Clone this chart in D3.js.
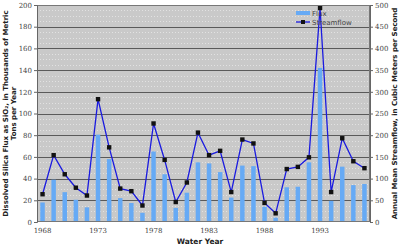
<!DOCTYPE html>
<html>
<head>
<meta charset="utf-8">
<script src="https://cdn.jsdelivr.net/npm/d3@7"></script>
<style>
  body { margin: 0; background: #fff; }
  text { font-family: "DejaVu Sans", Verdana, sans-serif; }
</style>
</head>
<body>
<div id="chart"></div>
<script>
// water years 1968-1997
var years = d3.range(1968, 1998);
var flux = [18, 39, 27.5, 20.5, 13.5, 80.5, 58, 22, 17.5, 8.5,
            65, 44, 13, 27, 55, 54, 46, 22.5, 52, 51.5,
            14, 4, 32, 32.5, 55, 142, 19.5, 51, 34, 35];
var streamflow = [64, 154, 110, 79, 61, 283, 172, 77, 71, 38,
                  227, 143, 46, 91, 206, 154, 164, 69, 190, 181,
                  44, 20, 122, 127, 149, 493, 69, 193, 140, 124];
var yearTicks = [1968, 1973, 1978, 1983, 1988, 1993];

var W = 400, H = 248;
var m = { left: 37, right: 30, top: 5, bottom: 26 };

var svg = d3.select("#chart").append("svg")
  .attr("width", W).attr("height", H);

var x = d3.scaleBand().domain(years).range([m.left, W - m.right]).padding(0);
var yL = d3.scaleLinear().domain([0, 200]).range([H - m.bottom, m.top]);
var yR = d3.scaleLinear().domain([0, 500]).range([H - m.bottom, m.top]);

// plot background
svg.append("rect")
  .attr("x", m.left).attr("y", m.top)
  .attr("width", W - m.left - m.right)
  .attr("height", H - m.top - m.bottom)
  .attr("fill", "#c9c9c9");

// minor dotted grid every 5
svg.append("g").selectAll("line")
  .data(d3.range(5, 200, 5).filter(function(v) { return v % 20 != 0; }))
  .enter().append("line")
  .attr("x1", m.left).attr("x2", W - m.right)
  .attr("y1", function(d) { return Math.round(yL(d)) + 0.5; })
  .attr("y2", function(d) { return Math.round(yL(d)) + 0.5; })
  .attr("stroke", "#e2e2e2").attr("stroke-width", 1)
  .attr("stroke-dasharray", "1,2");

// major grid every 20
svg.append("g").selectAll("line")
  .data(d3.range(20, 201, 20))
  .enter().append("line")
  .attr("x1", m.left).attr("x2", W - m.right)
  .attr("y1", function(d) { return Math.round(yL(d)) + 0.5; })
  .attr("y2", function(d) { return Math.round(yL(d)) + 0.5; })
  .attr("stroke", "#5a5a5a").attr("stroke-width", 1);

// bars
var bw = 4.5;
svg.append("g").selectAll("rect")
  .data(years)
  .enter().append("rect")
  .attr("x", function(d) { return x(d) + x.bandwidth() / 2 - bw / 2; })
  .attr("y", function(d, i) { return yL(flux[i]); })
  .attr("width", bw)
  .attr("height", function(d, i) { return yL(0) - yL(flux[i]); })
  .attr("fill", "#66aaf5");

// streamflow line
var line = d3.line()
  .x(function(d, i) { return x(years[i]) + x.bandwidth() / 2; })
  .y(function(d) { return yR(d); });

svg.append("path")
  .datum(streamflow)
  .attr("d", line)
  .attr("fill", "none")
  .attr("stroke", "#1a1ae0")
  .attr("stroke-width", 1.3);

svg.append("g").selectAll("rect")
  .data(streamflow)
  .enter().append("rect")
  .attr("x", function(d, i) { return x(years[i]) + x.bandwidth() / 2 - 2.2; })
  .attr("y", function(d) { return yR(d) - 2.2; })
  .attr("width", 4.4).attr("height", 4.4)
  .attr("fill", "#111");

// plot frame
svg.append("rect")
  .attr("x", m.left + 0.5).attr("y", m.top + 0.5)
  .attr("width", W - m.left - m.right - 1)
  .attr("height", H - m.top - m.bottom - 1)
  .attr("fill", "none").attr("stroke", "#777");

// axes
var axL = svg.append("g")
  .attr("transform", "translate(" + m.left + ",0)")
  .call(d3.axisLeft(yL).tickValues(d3.range(0, 201, 20)).tickSize(3).tickPadding(2));
var axR = svg.append("g")
  .attr("transform", "translate(" + (W - m.right) + ",0)")
  .call(d3.axisRight(yR).tickValues(d3.range(0, 501, 50)).tickSize(3).tickPadding(2));
var axB = svg.append("g")
  .attr("transform", "translate(0," + (H - m.bottom) + ")")
  .call(d3.axisBottom(x).tickValues(yearTicks).tickSize(0).tickPadding(6));

[axL, axR, axB].forEach(function(a) {
  a.select(".domain").attr("stroke", "#666");
  a.selectAll(".tick line").attr("stroke", "#666");
  a.selectAll("text").attr("fill", "#444").style("font-size", "7px")
    .style("font-family", "'DejaVu Serif', serif");
});
axB.select(".domain").remove();

// axis titles
svg.append("text")
  .attr("transform", "translate(8," + (m.top + (H - m.top - m.bottom) / 2) + ") rotate(-90)")
  .attr("text-anchor", "middle")
  .style("font-size", "7px").style("font-weight", "bold").attr("fill", "#222")
  .selectAll("tspan")
  .data(["Dissolved Silica Flux as SiO\u2082, in Thousands of Metric", "Tons per Year"])
  .enter().append("tspan")
  .attr("x", 0).attr("dy", function(d, i) { return i ? 8 : 0; })
  .text(function(d) { return d; });

svg.append("text")
  .attr("transform", "translate(397," + (m.top + (H - m.top - m.bottom) / 2) + ") rotate(-90)")
  .attr("text-anchor", "middle")
  .style("font-size", "7px").style("font-weight", "bold").attr("fill", "#222")
  .text("Annual Mean Streamflow, in Cubic Meters per Second");

svg.append("text")
  .attr("x", 200).attr("y", 244)
  .attr("text-anchor", "middle")
  .style("font-size", "7.5px").style("font-weight", "bold").attr("fill", "#222")
  .text("Water Year");

// legend
var lg = svg.append("g").attr("transform", "translate(296,0)");
lg.append("rect").attr("x", 0).attr("y", 11).attr("width", 14).attr("height", 4).attr("fill", "#66aaf5");
lg.append("text").attr("x", 16).attr("y", 15.5).style("font-size", "7px").attr("fill", "#444").text("Flux");
lg.append("line").attr("x1", 0).attr("x2", 14).attr("y1", 22).attr("y2", 22)
  .attr("stroke", "#1a1ae0").attr("stroke-width", 1.3);
lg.append("rect").attr("x", 5).attr("y", 20).attr("width", 4).attr("height", 4).attr("fill", "#111");
lg.append("text").attr("x", 16).attr("y", 24.5).style("font-size", "7px").attr("fill", "#444").text("Streamflow");
</script>
</body>
</html>
